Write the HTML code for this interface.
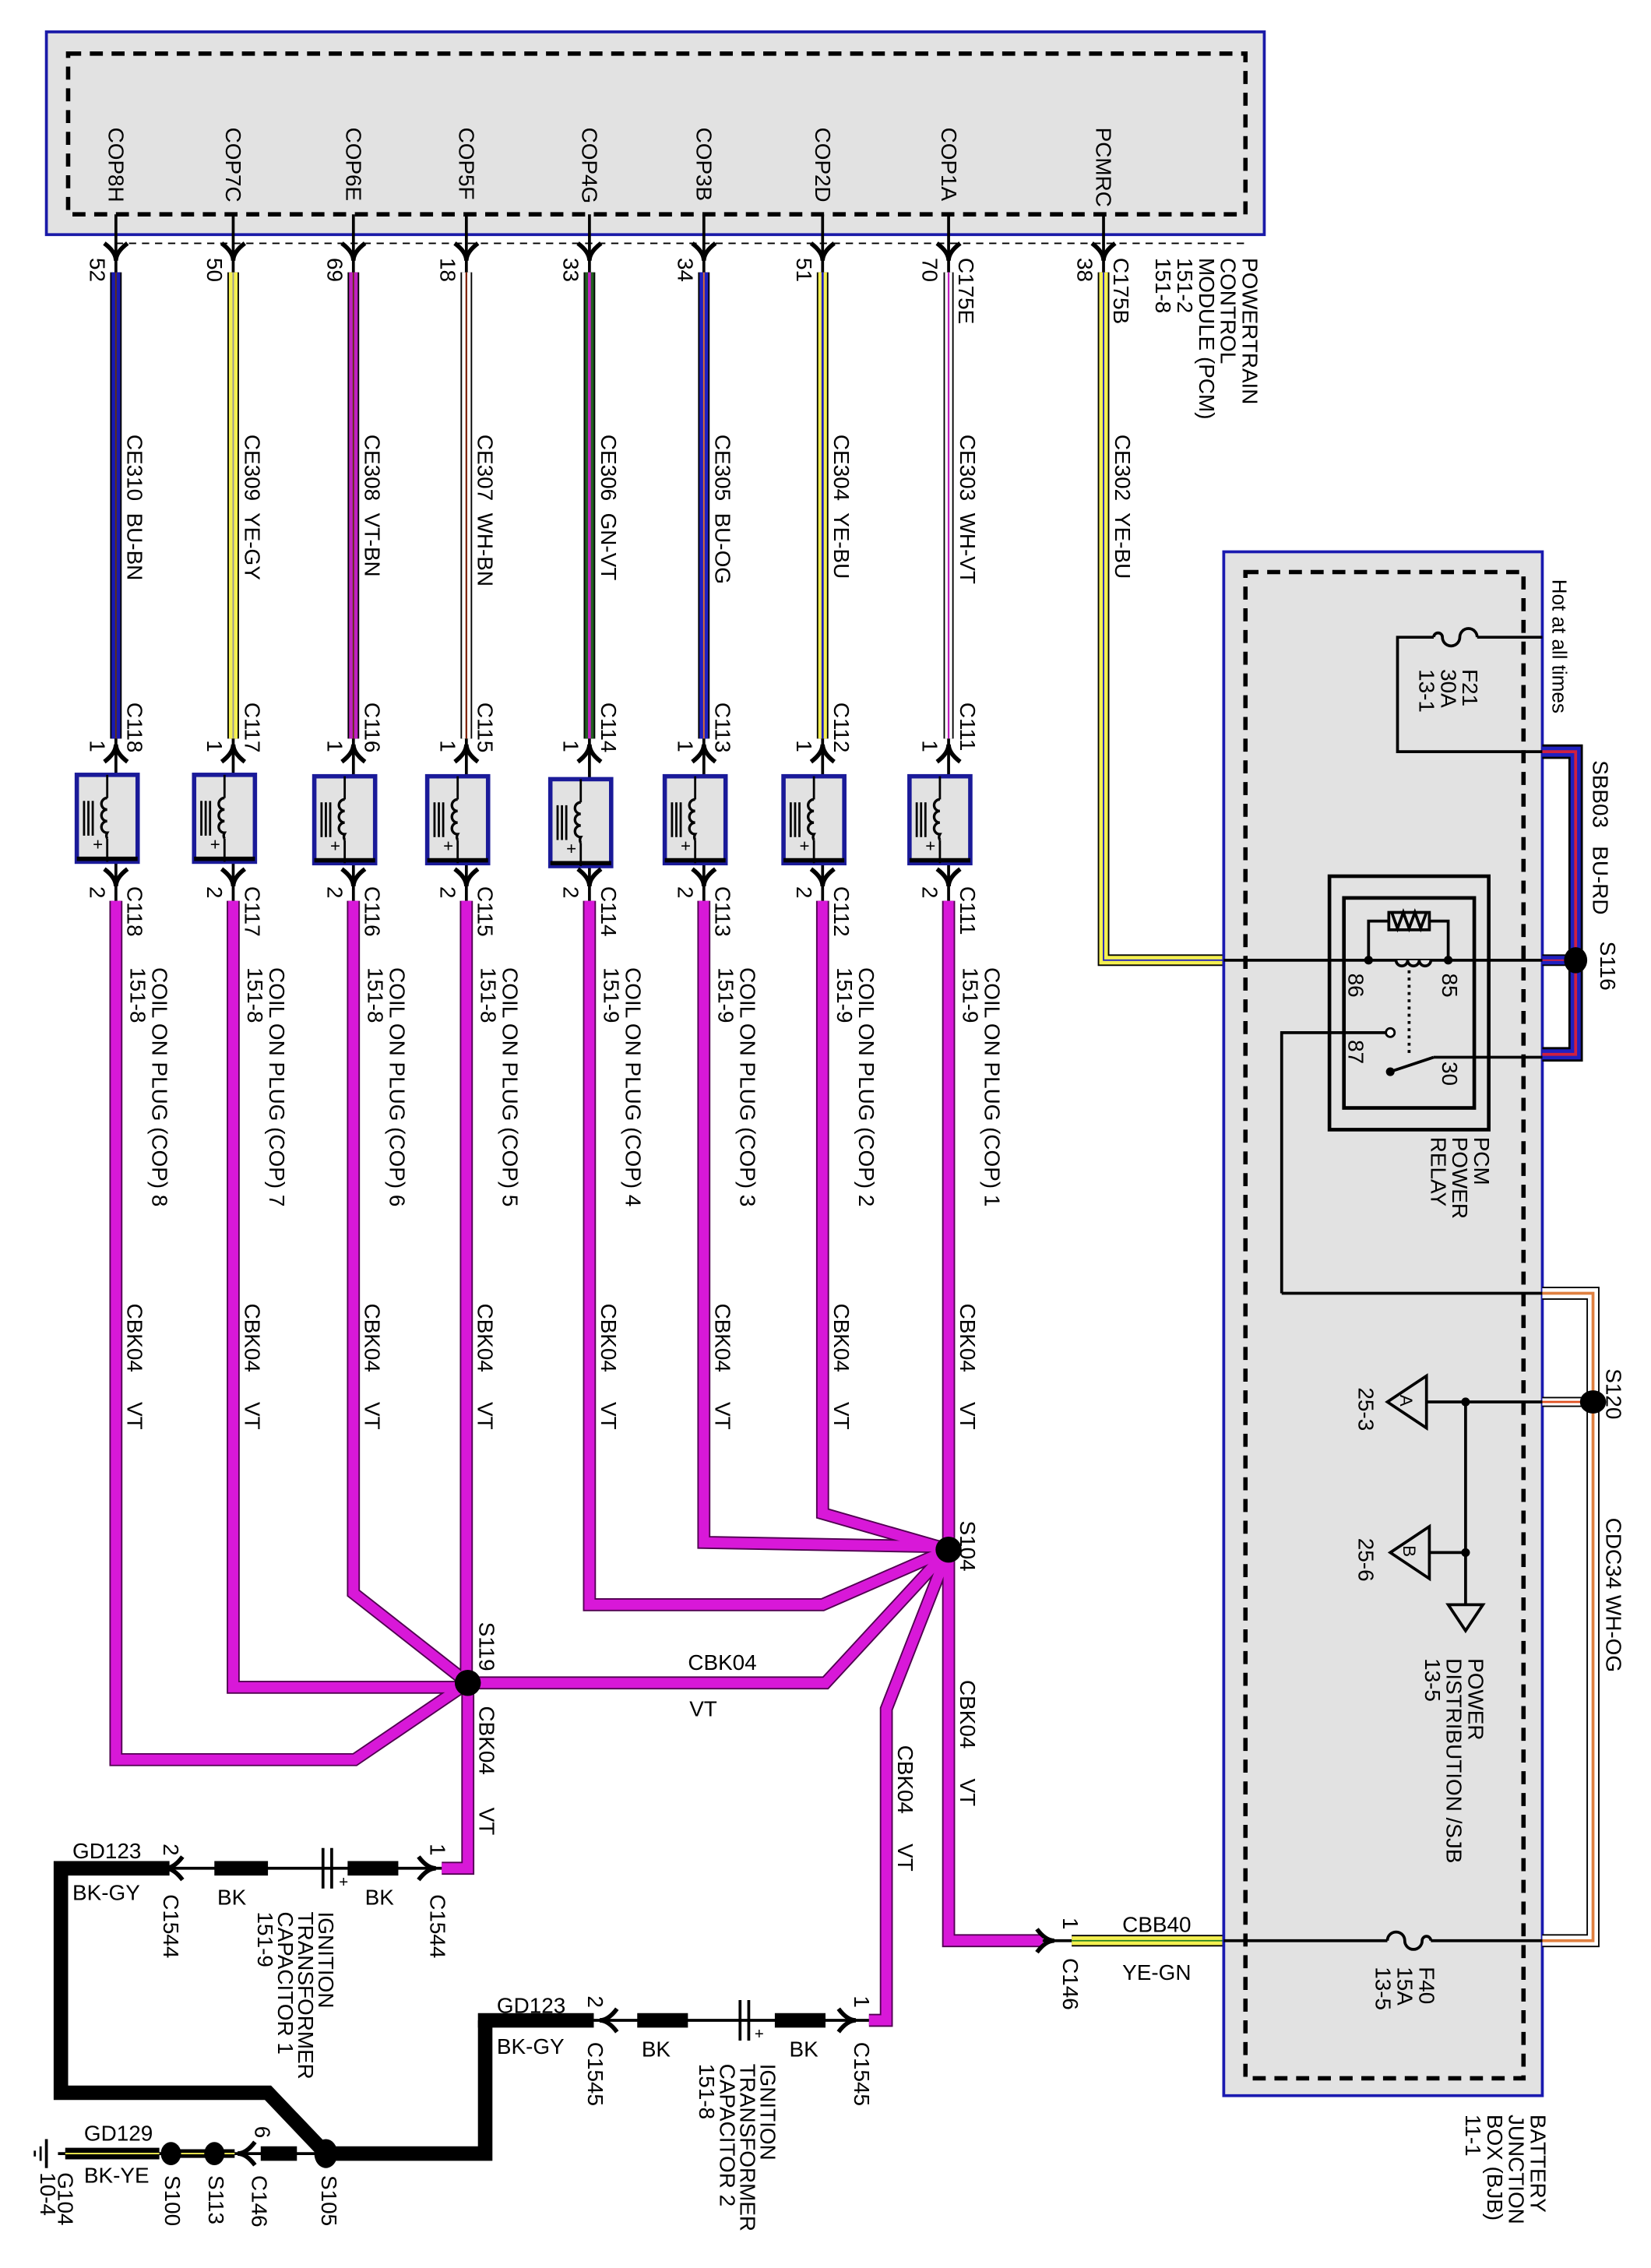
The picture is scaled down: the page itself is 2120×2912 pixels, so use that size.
<!DOCTYPE html>
<html><head><meta charset="utf-8"><style>
html,body{margin:0;padding:0;background:#fff}
svg{display:block}
text{font-family:"Liberation Sans",sans-serif;font-size:15px;fill:#000;white-space:pre}
.b{font-weight:bold}
</style></head><body>
<svg width="2120" height="2912" viewBox="0 0 1140 1566" xmlns="http://www.w3.org/2000/svg">
<defs>
<g id="coil">
<rect x="-21" y="-30" width="42" height="60" fill="#e2e2e2" stroke="#1a1a99" stroke-width="3"/>
<line x1="-21" y1="28" x2="21" y2="28" stroke="#000" stroke-width="3"/>
<line x1="0" y1="-30" x2="0" y2="-14" stroke="#000" stroke-width="1.5"/>
<path d="M0,-14 a4,4 0 0 0 0,8 a4,4 0 0 0 0,8 a4,4 0 0 0 0,8 a4,4 0 0 0 0,4" fill="none" stroke="#000" stroke-width="1.8"/>
<line x1="0" y1="14" x2="0" y2="30" stroke="#000" stroke-width="1.5"/>
<line x1="-13" y1="-12" x2="-13" y2="12" stroke="#000" stroke-width="1.5"/>
<line x1="-10" y1="-12" x2="-10" y2="12" stroke="#000" stroke-width="1.5"/>
<line x1="-16" y1="-12" x2="-16" y2="12" stroke="#000" stroke-width="1.5"/>
<text x="-10" y="22" style="font-size:12px">+</text>
</g>
<path id="ad" d="M-8,-6 Q0,0 0,6 Q0,0 8,-6" fill="none" stroke="#000" stroke-width="3"/>
<path id="au" d="M-8,6 Q0,0 0,-6 Q0,0 8,6" fill="none" stroke="#000" stroke-width="3"/>
</defs>

<!-- PCM box -->
<rect x="32" y="22" width="841" height="140" fill="#e2e2e2" stroke="#1a1aa8" stroke-width="2"/>
<rect x="47" y="37" width="813" height="111" fill="none" stroke="#000" stroke-width="3" stroke-dasharray="9,6"/>
<line x1="80" y1="168" x2="860" y2="168" stroke="#000" stroke-width="1" stroke-dasharray="5,4"/>
<g transform="translate(75,88) rotate(90)"><text>COP8H</text></g>
<g transform="translate(156,88) rotate(90)"><text>COP7C</text></g>
<g transform="translate(239,88) rotate(90)"><text>COP6E</text></g>
<g transform="translate(317,88) rotate(90)"><text>COP5F</text></g>
<g transform="translate(402,88) rotate(90)"><text>COP4G</text></g>
<g transform="translate(481,88) rotate(90)"><text>COP3B</text></g>
<g transform="translate(563,88) rotate(90)"><text>COP2D</text></g>
<g transform="translate(650,88) rotate(90)"><text>COP1A</text></g>
<g transform="translate(757,88) rotate(90)"><text>PCMRC</text></g>

<g stroke="#000" stroke-width="2">
<line x1="80" y1="148" x2="80" y2="190"/><line x1="161" y1="148" x2="161" y2="190"/>
<line x1="244" y1="148" x2="244" y2="190"/><line x1="322" y1="148" x2="322" y2="190"/>
<line x1="407" y1="148" x2="407" y2="190"/><line x1="486" y1="148" x2="486" y2="190"/>
<line x1="568" y1="148" x2="568" y2="190"/><line x1="655" y1="148" x2="655" y2="190"/>
<line x1="762" y1="148" x2="762" y2="190"/>
</g>
<use href="#ad" x="80" y="174"/><use href="#ad" x="161" y="174"/><use href="#ad" x="244" y="174"/>
<use href="#ad" x="322" y="174"/><use href="#ad" x="407" y="174"/><use href="#ad" x="486" y="174"/>
<use href="#ad" x="568" y="174"/><use href="#ad" x="655" y="174"/><use href="#ad" x="762" y="174"/>
<g transform="translate(62,178) rotate(90)"><text>52</text></g>
<g transform="translate(143,178) rotate(90)"><text>50</text></g>
<g transform="translate(226,178) rotate(90)"><text>69</text></g>
<g transform="translate(304,178) rotate(90)"><text>18</text></g>
<g transform="translate(389,178) rotate(90)"><text>33</text></g>
<g transform="translate(468,178) rotate(90)"><text>34</text></g>
<g transform="translate(550,178) rotate(90)"><text>51</text></g>
<g transform="translate(637,178) rotate(90)"><text>70</text></g>
<g transform="translate(744,178) rotate(90)"><text>38</text></g>
<g transform="translate(662,178) rotate(90)"><text>C175E</text></g>
<g transform="translate(769,178) rotate(90)"><text>C175B</text></g>
<g transform="translate(858,178) rotate(90)"><text>POWERTRAIN<tspan x="0" dy="15">CONTROL</tspan><tspan x="0" dy="15">MODULE (PCM)</tspan><tspan x="0" dy="15">151-2</tspan><tspan x="0" dy="15">151-8</tspan></text></g>

<g fill="none">
<line x1="80" y1="188" x2="80" y2="510" stroke="#000" stroke-width="8"/><line x1="80" y1="188" x2="80" y2="510" stroke="#1a1ab0" stroke-width="6"/><line x1="80" y1="188" x2="80" y2="510" stroke="#603010" stroke-width="1"/>
<line x1="161" y1="188" x2="161" y2="510" stroke="#000" stroke-width="8"/><line x1="161" y1="188" x2="161" y2="510" stroke="#f4f050" stroke-width="6"/><line x1="161" y1="188" x2="161" y2="510" stroke="#999" stroke-width="1"/>
<line x1="244" y1="188" x2="244" y2="510" stroke="#000" stroke-width="8"/><line x1="244" y1="188" x2="244" y2="510" stroke="#c020c0" stroke-width="6"/><line x1="244" y1="188" x2="244" y2="510" stroke="#603010" stroke-width="1"/>
<line x1="322" y1="188" x2="322" y2="510" stroke="#000" stroke-width="8"/><line x1="322" y1="188" x2="322" y2="510" stroke="#fff" stroke-width="6"/><line x1="322" y1="188" x2="322" y2="510" stroke="#802000" stroke-width="1.2"/>
<line x1="407" y1="188" x2="407" y2="510" stroke="#000" stroke-width="8"/><line x1="407" y1="188" x2="407" y2="510" stroke="#206020" stroke-width="6"/><line x1="407" y1="188" x2="407" y2="510" stroke="#c020c0" stroke-width="2"/>
<line x1="486" y1="188" x2="486" y2="510" stroke="#000" stroke-width="8"/><line x1="486" y1="188" x2="486" y2="510" stroke="#2020c0" stroke-width="6"/><line x1="486" y1="188" x2="486" y2="510" stroke="#e07030" stroke-width="1"/>
<line x1="568" y1="188" x2="568" y2="510" stroke="#000" stroke-width="8"/><line x1="568" y1="188" x2="568" y2="510" stroke="#f4f050" stroke-width="6"/><line x1="568" y1="188" x2="568" y2="510" stroke="#2020c0" stroke-width="1.5"/>
<line x1="655" y1="188" x2="655" y2="510" stroke="#000" stroke-width="7"/><line x1="655" y1="188" x2="655" y2="510" stroke="#fff" stroke-width="5"/><line x1="655" y1="188" x2="655" y2="510" stroke="#c020c0" stroke-width="1.2"/>
<polyline points="762,188 762,663 845,663" stroke="#000" stroke-width="8"/><polyline points="762,188 762,663 845,663" stroke="#f4f050" stroke-width="6"/><polyline points="762,188 762,663 845,663" stroke="#2020c0" stroke-width="1"/>
</g>
<g transform="translate(88,300) rotate(90)"><text>CE310  BU-BN</text></g>
<g transform="translate(169,300) rotate(90)"><text>CE309  YE-GY</text></g>
<g transform="translate(252,300) rotate(90)"><text>CE308  VT-BN</text></g>
<g transform="translate(330,300) rotate(90)"><text>CE307  WH-BN</text></g>
<g transform="translate(415,300) rotate(90)"><text>CE306  GN-VT</text></g>
<g transform="translate(494,300) rotate(90)"><text>CE305  BU-OG</text></g>
<g transform="translate(576,300) rotate(90)"><text>CE304  YE-BU</text></g>
<g transform="translate(663,300) rotate(90)"><text>CE303  WH-VT</text></g>
<g transform="translate(770,300) rotate(90)"><text>CE302  YE-BU</text></g>

<g stroke="#000" stroke-width="2">
<line x1="80" y1="510" x2="80" y2="622"/><line x1="161" y1="510" x2="161" y2="622"/><line x1="244" y1="510" x2="244" y2="622"/><line x1="322" y1="510" x2="322" y2="622"/>
<line x1="407" y1="510" x2="407" y2="622"/><line x1="486" y1="510" x2="486" y2="622"/><line x1="568" y1="510" x2="568" y2="622"/><line x1="655" y1="510" x2="655" y2="622"/>
</g>
<use href="#coil" x="74" y="565"/><use href="#coil" x="155" y="565"/><use href="#coil" x="238" y="566"/><use href="#coil" x="316" y="566"/>
<use href="#coil" x="401" y="568"/><use href="#coil" x="480" y="566"/><use href="#coil" x="562" y="566"/><use href="#coil" x="649" y="566"/>
<use href="#au" x="80" y="520"/><use href="#au" x="161" y="520"/><use href="#au" x="244" y="520"/><use href="#au" x="322" y="520"/>
<use href="#au" x="407" y="520"/><use href="#au" x="486" y="520"/><use href="#au" x="568" y="520"/><use href="#au" x="655" y="520"/>
<use href="#ad" x="80" y="606"/><use href="#ad" x="161" y="606"/><use href="#ad" x="244" y="606"/><use href="#ad" x="322" y="606"/>
<use href="#ad" x="407" y="606"/><use href="#ad" x="486" y="606"/><use href="#ad" x="568" y="606"/><use href="#ad" x="655" y="606"/>
<g transform="translate(88,485) rotate(90)"><text>C118</text></g>
<g transform="translate(169,485) rotate(90)"><text>C117</text></g>
<g transform="translate(252,485) rotate(90)"><text>C116</text></g>
<g transform="translate(330,485) rotate(90)"><text>C115</text></g>
<g transform="translate(415,485) rotate(90)"><text>C114</text></g>
<g transform="translate(494,485) rotate(90)"><text>C113</text></g>
<g transform="translate(576,485) rotate(90)"><text>C112</text></g>
<g transform="translate(663,485) rotate(90)"><text>C111</text></g>
<g transform="translate(62,511) rotate(90)"><text>1</text></g><g transform="translate(143,511) rotate(90)"><text>1</text></g><g transform="translate(226,511) rotate(90)"><text>1</text></g><g transform="translate(304,511) rotate(90)"><text>1</text></g>
<g transform="translate(389,511) rotate(90)"><text>1</text></g><g transform="translate(468,511) rotate(90)"><text>1</text></g><g transform="translate(550,511) rotate(90)"><text>1</text></g><g transform="translate(637,511) rotate(90)"><text>1</text></g>
<g transform="translate(62,612) rotate(90)"><text>2</text></g><g transform="translate(143,612) rotate(90)"><text>2</text></g><g transform="translate(226,612) rotate(90)"><text>2</text></g><g transform="translate(304,612) rotate(90)"><text>2</text></g>
<g transform="translate(389,612) rotate(90)"><text>2</text></g><g transform="translate(468,612) rotate(90)"><text>2</text></g><g transform="translate(550,612) rotate(90)"><text>2</text></g><g transform="translate(637,612) rotate(90)"><text>2</text></g>

<g transform="translate(88,612) rotate(90)"><text>C118</text></g>
<g transform="translate(169,612) rotate(90)"><text>C117</text></g>
<g transform="translate(252,612) rotate(90)"><text>C116</text></g>
<g transform="translate(330,612) rotate(90)"><text>C115</text></g>
<g transform="translate(415,612) rotate(90)"><text>C114</text></g>
<g transform="translate(494,612) rotate(90)"><text>C113</text></g>
<g transform="translate(576,612) rotate(90)"><text>C112</text></g>
<g transform="translate(663,612) rotate(90)"><text>C111</text></g>
<g transform="translate(105,668) rotate(90)"><text>COIL ON PLUG (COP) 8<tspan x="0" y="15">151-8</tspan></text></g>
<g transform="translate(186,668) rotate(90)"><text>COIL ON PLUG (COP) 7<tspan x="0" y="15">151-8</tspan></text></g>
<g transform="translate(269,668) rotate(90)"><text>COIL ON PLUG (COP) 6<tspan x="0" y="15">151-8</tspan></text></g>
<g transform="translate(347,668) rotate(90)"><text>COIL ON PLUG (COP) 5<tspan x="0" y="15">151-8</tspan></text></g>
<g transform="translate(432,668) rotate(90)"><text>COIL ON PLUG (COP) 4<tspan x="0" y="15">151-9</tspan></text></g>
<g transform="translate(511,668) rotate(90)"><text>COIL ON PLUG (COP) 3<tspan x="0" y="15">151-9</tspan></text></g>
<g transform="translate(593,668) rotate(90)"><text>COIL ON PLUG (COP) 2<tspan x="0" y="15">151-9</tspan></text></g>
<g transform="translate(680,668) rotate(90)"><text>COIL ON PLUG (COP) 1<tspan x="0" y="15">151-9</tspan></text></g>

<g fill="none" stroke-linejoin="miter">
<g stroke="#500050" stroke-width="9">
<polyline points="80,622 80,1215 245,1215 323,1162"/>
<polyline points="161,622 161,1165 323,1165"/>
<polyline points="244,622 244,1100 323,1162"/>
<polyline points="322,622 322,1162"/>
<polyline points="407,622 407,1108 568,1108 655,1070"/>
<polyline points="486,622 486,1065 655,1068"/>
<polyline points="568,622 568,1045 655,1070"/>
<polyline points="655,622 655,1070"/>
<polyline points="323,1162 570,1162 655,1070"/>
<polyline points="323,1162 323,1290 305,1290"/>
<polyline points="655,1070 612,1180 612,1395 600,1395"/>
<polyline points="655,1070 655,1340 720,1340"/>
</g>
<g stroke="#d818d8" stroke-width="7">
<polyline points="80,622 80,1215 245,1215 323,1162"/>
<polyline points="161,622 161,1165 323,1165"/>
<polyline points="244,622 244,1100 323,1162"/>
<polyline points="322,622 322,1162"/>
<polyline points="407,622 407,1108 568,1108 655,1070"/>
<polyline points="486,622 486,1065 655,1068"/>
<polyline points="568,622 568,1045 655,1070"/>
<polyline points="655,622 655,1070"/>
<polyline points="323,1162 570,1162 655,1070"/>
<polyline points="323,1162 323,1290 305,1290"/>
<polyline points="655,1070 612,1180 612,1395 600,1395"/>
<polyline points="655,1070 655,1340 720,1340"/>
</g>
</g>
<circle cx="323" cy="1162" r="9" fill="#000"/>
<circle cx="655" cy="1070" r="9" fill="#000"/>
<g transform="translate(88,900) rotate(90)"><text>CBK04</text></g><g transform="translate(88,968) rotate(90)"><text>VT</text></g>
<g transform="translate(169,900) rotate(90)"><text>CBK04</text></g><g transform="translate(169,968) rotate(90)"><text>VT</text></g>
<g transform="translate(252,900) rotate(90)"><text>CBK04</text></g><g transform="translate(252,968) rotate(90)"><text>VT</text></g>
<g transform="translate(330,900) rotate(90)"><text>CBK04</text></g><g transform="translate(330,968) rotate(90)"><text>VT</text></g>
<g transform="translate(415,900) rotate(90)"><text>CBK04</text></g><g transform="translate(415,968) rotate(90)"><text>VT</text></g>
<g transform="translate(494,900) rotate(90)"><text>CBK04</text></g><g transform="translate(494,968) rotate(90)"><text>VT</text></g>
<g transform="translate(576,900) rotate(90)"><text>CBK04</text></g><g transform="translate(576,968) rotate(90)"><text>VT</text></g>
<g transform="translate(663,900) rotate(90)"><text>CBK04</text></g><g transform="translate(663,968) rotate(90)"><text>VT</text></g>
<g transform="translate(663,1050) rotate(90)"><text>S104</text></g>
<g transform="translate(331,1120) rotate(90)"><text>S119</text></g>
<text x="475" y="1153">CBK04</text>
<text x="476" y="1185">VT</text>
<g transform="translate(331,1178) rotate(90)"><text>CBK04</text></g><g transform="translate(331,1248) rotate(90)"><text>VT</text></g>
<g transform="translate(663,1160) rotate(90)"><text>CBK04</text></g><g transform="translate(663,1228) rotate(90)"><text>VT</text></g>
<g transform="translate(620,1205) rotate(90)"><text>CBK04</text></g><g transform="translate(620,1273) rotate(90)"><text>VT</text></g>

<use href="#ad" transform="translate(722,1340) rotate(-90)"/>
<line x1="720" y1="1340" x2="740" y2="1340" stroke="#000" stroke-width="2"/>
<line x1="740" y1="1340" x2="845" y2="1340" stroke="#000" stroke-width="8"/>
<line x1="740" y1="1340" x2="845" y2="1340" stroke="#f4f050" stroke-width="6"/>
<line x1="740" y1="1340" x2="845" y2="1340" stroke="#208020" stroke-width="1"/>
<g transform="translate(734,1324) rotate(90)"><text>1</text></g>
<g transform="translate(734,1352) rotate(90)"><text>C146</text></g>
<text x="775" y="1334">CBB40</text>
<text x="775" y="1367">YE-GN</text>

<!-- BJB -->
<rect x="845" y="381" width="220" height="1066" fill="#e2e2e2" stroke="#1a1ab0" stroke-width="2"/>
<rect x="860" y="395" width="192" height="1040" fill="none" stroke="#000" stroke-width="3" stroke-dasharray="9,6"/>
<g transform="translate(1072,400) rotate(90)"><text style="font-size:14px">Hot at all times</text></g>
<g transform="translate(1057,1460) rotate(90)"><text>BATTERY<tspan x="0" dy="15">JUNCTION</tspan><tspan x="0" dy="15">BOX (BJB)</tspan><tspan x="0" dy="15">11-1</tspan></text></g>

<g fill="none" stroke="#000" stroke-width="2">
<polyline points="1065,440 1020,440"/>
<path d="M1020,440 a6,6 0 0 0 -12,0 a6,6 0 0 1 -12,0 a3,3 0 0 0 -6,0"/>
<polyline points="990,440 965,440 965,519 1065,519"/>
</g>
<g transform="translate(1010,462) rotate(90)"><text>F21<tspan x="0" dy="15">30A</tspan><tspan x="0" dy="15">13-1</tspan></text></g>

<g fill="none">
<polyline points="1065,519 1088,519 1088,728 1065,728" stroke="#000" stroke-width="10"/>
<polyline points="1065,519 1088,519 1088,728 1065,728" stroke="#2020c0" stroke-width="7"/>
<polyline points="1065,519 1088,519 1088,728 1065,728" stroke="#d02040" stroke-width="2"/>
<line x1="1065" y1="663" x2="1088" y2="663" stroke="#000" stroke-width="8"/>
<line x1="1065" y1="663" x2="1088" y2="663" stroke="#2020c0" stroke-width="6"/>
<line x1="1065" y1="663" x2="1088" y2="663" stroke="#d02040" stroke-width="1"/>
</g>
<ellipse cx="1088" cy="663" rx="8" ry="9" fill="#000"/>
<g transform="translate(1100,525) rotate(90)"><text>SBB03   BU-RD</text></g>
<g transform="translate(1105,650) rotate(90)"><text>S116</text></g>

<line x1="845" y1="663" x2="1065" y2="663" stroke="#000" stroke-width="2"/>
<rect x="918" y="605" width="110" height="175" fill="none" stroke="#000" stroke-width="2.5"/>
<rect x="928" y="620" width="90" height="145" fill="none" stroke="#000" stroke-width="2.5"/>
<g fill="none" stroke="#000" stroke-width="2">
<polyline points="945,663 945,636 959,636"/><polyline points="987,636 1000,636 1000,663"/>
<rect x="959" y="630" width="28" height="12"/>
<path d="M961,630 l4,11 l4,-11 l4,11 l4,-11 l4,11 l4,-11"/>
<path d="M964,663 a4,4 0 0 0 8,0 a4,4 0 0 0 8,0 a4,4 0 0 0 8,0" fill="#e2e2e2"/>
<line x1="973" y1="670" x2="973" y2="728" stroke-dasharray="2,3"/>
<polyline points="885,893 885,713 958,713"/>
<line x1="960" y1="740" x2="990" y2="730"/>
<polyline points="990,730 1065,730"/>
</g>
<circle cx="945" cy="663" r="3" fill="#000"/><circle cx="1000" cy="663" r="3" fill="#000"/>
<circle cx="960" cy="713" r="3" fill="#fff" stroke="#000" stroke-width="1.5"/>
<circle cx="960" cy="740" r="3" fill="#000"/>
<g transform="translate(931,672) rotate(90)"><text>86</text></g>
<g transform="translate(996,672) rotate(90)"><text>85</text></g>
<g transform="translate(931,718) rotate(90)"><text>87</text></g>
<g transform="translate(996,733) rotate(90)"><text>30</text></g>
<g transform="translate(1018,785) rotate(90)"><text>PCM<tspan x="0" dy="15">POWER</tspan><tspan x="0" dy="15">RELAY</tspan></text></g>

<line x1="885" y1="893" x2="1065" y2="893" stroke="#000" stroke-width="2"/>
<g fill="none">
<polyline points="1065,893 1100,893 1100,1340 1065,1340" stroke="#000" stroke-width="9"/>
<polyline points="1065,893 1100,893 1100,1340 1065,1340" stroke="#fff" stroke-width="7"/>
<polyline points="1065,893 1100,893 1100,1340 1065,1340" stroke="#e08040" stroke-width="2"/>
<polyline points="1065,968 1100,968" stroke="#000" stroke-width="7"/>
<polyline points="1065,968 1100,968" stroke="#fff" stroke-width="5"/>
<polyline points="1065,968 1100,968" stroke="#e05020" stroke-width="1.5"/>
</g>
<ellipse cx="1100" cy="968" rx="9" ry="8" fill="#000"/>
<g transform="translate(1109,945) rotate(90)"><text>S120</text></g>
<g transform="translate(1109,1048) rotate(90)"><text>CDC34 WH-OG</text></g>
<line x1="985" y1="968" x2="1065" y2="968" stroke="#000" stroke-width="2"/>
<line x1="1012" y1="968" x2="1012" y2="1108" stroke="#000" stroke-width="2"/>
<line x1="985" y1="1072" x2="1012" y2="1072" stroke="#000" stroke-width="2"/>
<circle cx="1012" cy="968" r="3" fill="#000"/><circle cx="1012" cy="1072" r="3" fill="#000"/>
<polygon points="985,950 985,986 958,968" fill="#e2e2e2" stroke="#000" stroke-width="2"/>
<polygon points="987,1054 987,1090 960,1072" fill="#e2e2e2" stroke="#000" stroke-width="2"/>
<text transform="translate(967,963) rotate(90)" style="font-size:12px">A</text>
<text transform="translate(969,1067) rotate(90)" style="font-size:12px">B</text>
<polygon points="1000,1108 1024,1108 1012,1126" fill="none" stroke="#000" stroke-width="2"/>
<g transform="translate(938,958) rotate(90)"><text>25-3</text></g>
<g transform="translate(938,1062) rotate(90)"><text>25-6</text></g>
<g transform="translate(1014,1145) rotate(90)"><text>POWER<tspan x="0" dy="15">DISTRIBUTION /SJB</tspan><tspan x="0" dy="15">13-5</tspan></text></g>

<g fill="none" stroke="#000" stroke-width="2">
<line x1="845" y1="1340" x2="958" y2="1340"/>
<path d="M958,1340 a6,6 0 0 1 12,0 a6,6 0 0 0 12,0 a3,3 0 0 1 6,0"/>
<line x1="988" y1="1340" x2="1065" y2="1340"/>
</g>
<g transform="translate(980,1358) rotate(90)"><text>F40<tspan x="0" dy="15">15A</tspan><tspan x="0" dy="15">13-5</tspan></text></g>

<!-- ground section -->
<g fill="none" stroke="#000">
<polyline points="117,1290 42,1290 42,1445 185,1445 225,1487" stroke-width="10"/>
<line x1="117" y1="1290" x2="305" y2="1290" stroke-width="2"/>
<line x1="148" y1="1290" x2="185" y2="1290" stroke-width="10"/>
<line x1="240" y1="1290" x2="275" y2="1290" stroke-width="10"/>
<line x1="223" y1="1276" x2="223" y2="1304" stroke-width="2"/>
<line x1="229" y1="1276" x2="229" y2="1304" stroke-width="2"/>
<polyline points="335,1395 335,1487 225,1487" stroke-width="10"/>
<line x1="330" y1="1395" x2="410" y2="1395" stroke-width="10"/>
<line x1="410" y1="1395" x2="600" y2="1395" stroke-width="2"/>
<line x1="440" y1="1395" x2="475" y2="1395" stroke-width="10"/>
<line x1="535" y1="1395" x2="570" y2="1395" stroke-width="10"/>
<line x1="511" y1="1381" x2="511" y2="1409" stroke-width="2"/>
<line x1="517" y1="1381" x2="517" y2="1409" stroke-width="2"/>
<line x1="180" y1="1487" x2="205" y2="1487" stroke-width="10"/>
<line x1="40" y1="1487" x2="225" y2="1487" stroke-width="2"/>
<line x1="45" y1="1487" x2="110" y2="1487" stroke-width="8"/>
<line x1="45" y1="1487" x2="110" y2="1487" stroke="#f4f050" stroke-width="1"/>
<line x1="120" y1="1487" x2="162" y2="1487" stroke-width="6"/>
<line x1="120" y1="1487" x2="162" y2="1487" stroke="#f4f050" stroke-width="1"/>
<line x1="32" y1="1477" x2="32" y2="1497" stroke-width="2"/>
<line x1="28" y1="1482" x2="28" y2="1492" stroke-width="1.5"/>
<line x1="24" y1="1485" x2="24" y2="1489" stroke-width="1.5"/>
</g>
<use href="#ad" transform="translate(120,1290) rotate(90)"/>
<use href="#ad" transform="translate(295,1290) rotate(-90)"/>
<use href="#ad" transform="translate(420,1395) rotate(90)"/>
<use href="#ad" transform="translate(585,1395) rotate(-90)"/>
<use href="#ad" transform="translate(170,1487) rotate(90)"/>
<ellipse cx="225" cy="1487" rx="8" ry="10" fill="#000"/>
<ellipse cx="148" cy="1487" rx="7" ry="8" fill="#000"/>
<ellipse cx="118" cy="1487" rx="7" ry="8" fill="#000"/>
<text x="234" y="1303" style="font-size:11px">+</text>
<text x="521" y="1408" style="font-size:11px">+</text>
<text x="50" y="1283">GD123</text>
<text x="50" y="1312">BK-GY</text>
<g transform="translate(113,1273) rotate(90)"><text>2</text></g>
<g transform="translate(297,1273) rotate(90)"><text>1</text></g>
<g transform="translate(113,1308) rotate(90)"><text>C1544</text></g>
<g transform="translate(297,1308) rotate(90)"><text>C1544</text></g>
<text x="150" y="1315">BK</text><text x="252" y="1315">BK</text>
<g transform="translate(220,1320) rotate(90)"><text>IGNITION<tspan x="0" dy="14">TRANSFORMER</tspan><tspan x="0" dy="14">CAPACITOR 1</tspan><tspan x="0" dy="14">151-9</tspan></text></g>
<text x="343" y="1390">GD123</text>
<text x="343" y="1418">BK-GY</text>
<g transform="translate(406,1378) rotate(90)"><text>2</text></g>
<g transform="translate(590,1378) rotate(90)"><text>1</text></g>
<g transform="translate(406,1410) rotate(90)"><text>C1545</text></g>
<g transform="translate(590,1410) rotate(90)"><text>C1545</text></g>
<text x="443" y="1420">BK</text><text x="545" y="1420">BK</text>
<g transform="translate(525,1425) rotate(90)"><text>IGNITION<tspan x="0" dy="14">TRANSFORMER</tspan><tspan x="0" dy="14">CAPACITOR 2</tspan><tspan x="0" dy="14">151-8</tspan></text></g>
<text x="58" y="1478">GD129</text>
<text x="58" y="1507">BK-YE</text>
<g transform="translate(176,1468) rotate(90)"><text>6</text></g>
<g transform="translate(114,1502) rotate(90)"><text>S100</text></g>
<g transform="translate(144,1502) rotate(90)"><text>S113</text></g>
<g transform="translate(174,1502) rotate(90)"><text>C146</text></g>
<g transform="translate(222,1502) rotate(90)"><text>S105</text></g>
<g transform="translate(40,1500) rotate(90)"><text>G104<tspan x="0" dy="12">10-4</tspan></text></g>
</svg>
</body></html>
